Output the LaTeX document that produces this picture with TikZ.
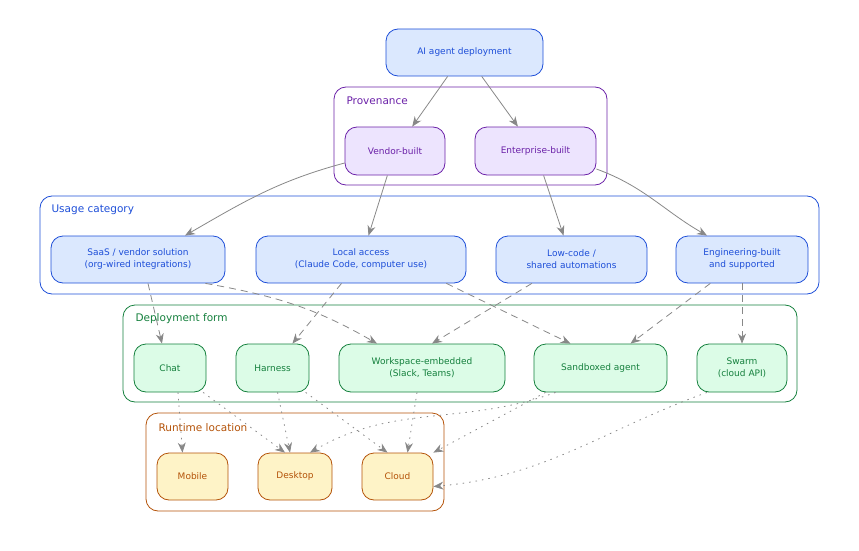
\documentclass[tikz,border=0pt]{standalone}
\usepackage{fontspec}
\setmainfont{DejaVu Sans}
\usetikzlibrary{arrows.meta}
\definecolor{bd}{HTML}{1D4ED8}\definecolor{bf}{HTML}{DBE8FE}
\definecolor{pd}{HTML}{6B21A8}\definecolor{pf}{HTML}{EDE4FE}
\definecolor{gd}{HTML}{15803D}\definecolor{gf}{HTML}{DCFCE7}
\definecolor{od}{HTML}{B45309}\definecolor{of}{HTML}{FEF3C7}
\definecolor{ed}{HTML}{888888}
\tikzset{
 box/.style={draw,rounded corners=12pt,align=center,font=\fontsize{9}{12}\selectfont,inner sep=0pt,line width=0.8pt},
 bbox/.style={box,draw=bd,fill=bf,text=bd},
 pbox/.style={box,draw=pd,fill=pf,text=pd},
 gbox/.style={box,draw=gd,fill=gf,text=gd},
 obox/.style={box,draw=od,fill=of,text=od},
 clus/.style={rounded corners=12pt,line width=0.8pt},
 clab/.style={anchor=west,font=\fontsize{10.5}{12}\selectfont},
 e/.style={draw=ed,line width=0.8pt,-{Stealth[length=10pt,width=8pt]}},
 ed/.style={e,dash pattern=on 7pt off 5pt},
 eo/.style={e,dash pattern=on 1.5pt off 5pt},
}
\begin{document}
\begin{tikzpicture}[x=1pt,y=-1pt]
\useasboundingbox (0,0) rectangle (859,551);
\draw[clus,draw=pd] (334,87) rectangle (607,185);
\node[clab,text=pd] (lp) at (343,101) {Provenance};
\draw[clus,draw=bd] (40,196) rectangle (819,294);
\node[clab,text=bd] (lu) at (48,210) {Usage category};
\draw[clus,draw=gd] (123,305) rectangle (797,402);
\node[clab,text=gd] (ld) at (132,319) {Deployment form};
\draw[clus,draw=od] (146,413) rectangle (444,511);
\node[clab,text=od] (lr) at (155,428) {Runtime location};

\node[bbox,minimum width=157pt,minimum height=47pt] (ai) at (464.5,52.5) {AI agent deployment};
\node[pbox,minimum width=100pt,minimum height=48pt] (ven) at (395,151) {Vendor-built};
\node[pbox,minimum width=121pt,minimum height=48pt] (ent) at (535.5,151) {Enterprise-built};
\node[bbox,minimum width=174pt,minimum height=47pt] (saas) at (138,259.5) {SaaS / vendor solution\\(org-wired integrations)};
\node[bbox,minimum width=210pt,minimum height=47pt] (loc) at (361,259.5) {Local access\\(Claude Code, computer use)};
\node[bbox,minimum width=151pt,minimum height=47pt] (low) at (571.5,259.5) {Low-code /\\shared automations};
\node[bbox,minimum width=132pt,minimum height=47pt] (eng) at (742,259.5) {Engineering-built\\and supported};
\node[gbox,minimum width=72pt,minimum height=48pt] (chat) at (170,368) {Chat};
\node[gbox,minimum width=73pt,minimum height=48pt] (har) at (272.5,368) {Harness};
\node[gbox,minimum width=166pt,minimum height=48pt] (ws) at (422,368) {Workspace-embedded\\(Slack, Teams)};
\node[gbox,minimum width=133pt,minimum height=48pt] (sb) at (600.5,368) {Sandboxed agent};
\node[gbox,minimum width=90pt,minimum height=48pt] (sw) at (742,368) {Swarm\\(cloud API)};
\node[obox,minimum width=71pt,minimum height=47pt] (mob) at (192.5,476.5) {Mobile};
\node[obox,minimum width=74pt,minimum height=47pt] (desk) at (295,476.5) {Desktop};
\node[obox,minimum width=71pt,minimum height=47pt] (cl) at (397.5,476.5) {Cloud};

\draw[e] (ai) -- (ven);
\draw[e] (ai) -- (ent);
\draw[e] ([yshift=-12pt]ven.east -| ven.west) to[out=195,in=30] ([xshift=47pt]saas.north);
\draw[e] (ven) -- (loc);
\draw[e] (ent) -- (low);
\draw[e] ([yshift=-18pt]ent.east) to[out=-20,in=150] ([xshift=-35pt]eng.north);
\draw[ed] ([xshift=10pt]saas.south) -- ([xshift=-8pt]chat.north);
\draw[ed] ([xshift=-20pt]saas.south east) to[out=-10,in=150] ([xshift=-45pt]ws.north);
\draw[ed] (loc) -- (har);
\draw[ed] ([xshift=-20pt]loc.south east) -- ([xshift=-30pt]sb.north);
\draw[ed] (low) -- ([xshift=10pt]ws.north);
\draw[ed] (eng) -- ([xshift=30pt]sb.north);
\draw[ed] (eng) -- (sw);
\draw[eo] ([xshift=8pt]chat.south) -- ([xshift=-10pt]mob.north);
\draw[eo] (chat) -- ([xshift=-10pt]desk.north);
\draw[eo] (har) -- (desk);
\draw[eo] (har) -- ([xshift=-10pt]cl.north);
\draw[eo] ([xshift=-5pt]ws.south) -- ([xshift=10pt]cl.north);
\draw[eo] ([xshift=-45pt]sb.south) to[out=200,in=30] ([xshift=15pt]desk.north);
\draw[eo] ([xshift=-55pt]sb.south) -- (cl.north east);
\draw[eo] ([xshift=-35pt]sw.south) to[out=200,in=5] ([yshift=-10pt]cl.east);
\end{tikzpicture}
\end{document}
